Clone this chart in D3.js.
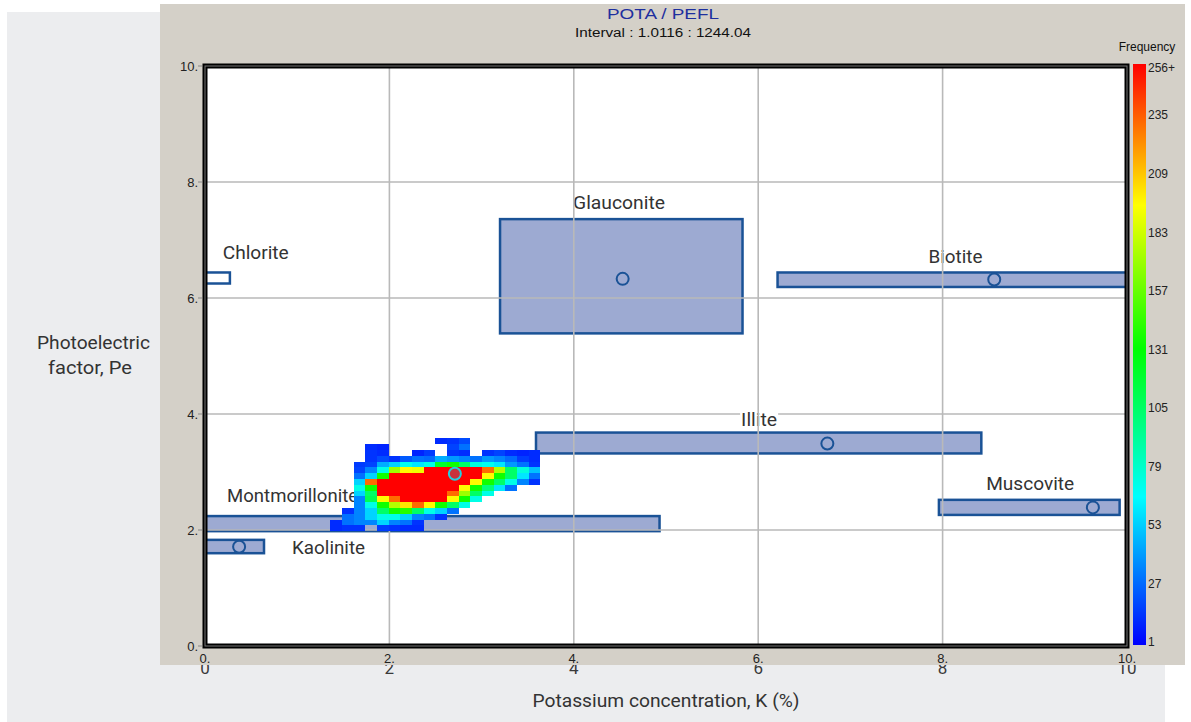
<!DOCTYPE html>
<html><head><meta charset="utf-8">
<script src="https://cdn.jsdelivr.net/npm/d3@7"></script>
<style>body{margin:0;background:#fff;} svg{display:block}</style>
</head><body>
<svg id="c" width="1191" height="722"></svg>
<script>
// Axis ticks
const xTicks = [0, 2, 4, 6, 8, 10];
const yTicks = [0, 2, 4, 6, 8, 10];
const legendTicks = [1, 27, 53, 79, 105, 131, 157, 183, 209, 235, 256];

// Mineral reference boxes (K %, Pe)
const minerals = ["Chlorite", "Glauconite", "Biotite", "Illite", "Muscovite", "Montmorillonite", "Kaolinite"];
const kMin  = [-0.5, 3.20, 6.21, 3.59, 7.96, -0.5, -0.1];
const kMax  = [0.27, 5.83, 10.5, 8.42, 9.92, 4.93, 0.64];
const peMin = [6.25, 5.39, 6.19, 3.32, 2.26, 1.98, 1.60];
const peMax = [6.44, 7.36, 6.44, 3.68, 2.52, 2.24, 1.83];
const kMean  = [null, 4.53, 8.56, 6.75, 9.63, null, 0.37];
const peMean = [null, 6.33, 6.32, 3.49, 2.39, null, 1.71];
const openBox = [true, false, false, false, false, false, false];
const labelK  = [0.55, 4.49, 8.14, 6.01, 8.95, 0.95, 1.34];
const labelPe = [6.78, 7.64, 6.72, 3.90, 2.81, 2.59, 1.69];
const labelWidth = [66, 92, 54, 36, 88, 131, 73];

// Frequency histogram of the log samples
const binK0 = 1.36, binKWidth = 0.1265;
const binPe0 = 1.98, binPeHeight = 0.1;
// rows listed from highest Pe bin down to lowest
const freqRows = [
  [0,0,0,0,0,0,0,0,0,12,14,20,0,0,0,0,0,0],
  [0,0,0,12,10,0,0,0,0,0,18,30,0,0,0,0,0,0],
  [0,0,0,14,12,0,0,10,16,0,14,12,0,14,18,12,10,12],
  [0,0,0,14,20,14,24,30,28,45,40,35,30,40,35,28,16,12],
  [0,0,16,18,45,55,70,60,72,120,135,105,75,70,60,40,30,14],
  [0,0,18,35,72,170,195,190,256,256,256,256,256,230,175,105,75,50],
  [0,0,30,55,135,256,256,256,256,256,256,256,256,195,135,105,60,30],
  [0,0,55,230,256,256,256,256,256,256,256,256,195,135,105,72,35,14],
  [0,0,72,135,256,256,256,256,256,256,256,195,135,100,60,30,0,0],
  [0,0,55,105,256,256,256,256,256,256,230,170,105,72,0,0,0,0],
  [0,0,35,110,195,230,256,256,256,256,195,135,72,0,0,0,0,0],
  [0,0,35,72,135,175,200,230,195,135,105,72,0,0,0,0,0,0],
  [0,14,35,55,105,135,140,105,72,55,30,0,0,0,0,0,0,0],
  [0,30,35,55,72,72,55,35,30,14,0,0,0,0,0,0,0,0],
  [12,30,35,35,55,35,30,14,0,0,0,0,0,0,0,0,0,0],
  [12,14,14,0,16,14,12,12,0,0,0,0,0,0,0,0,0,0]
];
const sampleMeanK = 2.71, sampleMeanPe = 2.97;

const svg = d3.select("#c");
const defs = svg.append("defs");
const x = d3.scaleLinear().domain([0, 10]).range([205, 1127]);
const y = d3.scaleLinear().domain([0, 10]).range([646, 66]);
const color = d3.scaleLinear().domain([1, 66, 131, 194, 256])
  .range(["#0000ff", "#00ffff", "#00ff00", "#ffff00", "#ff0000"]).clamp(true);
const legendY = d3.scaleLinear().domain([1, 256]).range([642, 68]);

const FONT = "'Liberation Sans', Arial, sans-serif";
const LFONT = "Roboto, 'Liberation Sans', sans-serif";

// Backgrounds
svg.append("rect").attr("x", 7).attr("y", 12).attr("width", 1158).attr("height", 710).attr("fill", "#ecedef");
// bottom tick numerals of the outer figure, mostly hidden behind the panel
defs.append("clipPath").attr("id", "underPanel")
  .append("rect").attr("x", 0).attr("y", 665).attr("width", 1191).attr("height", 20);
svg.append("g").attr("clip-path", "url(#underPanel)").selectAll("text").data(xTicks).join("text")
  .attr("x", d => x(d)).attr("y", 674).attr("text-anchor", "middle")
  .attr("font-family", LFONT).attr("font-size", 17).attr("fill", "#3a3a3a").text(d => d);
svg.append("rect").attr("x", 160).attr("y", 4).attr("width", 1025).attr("height", 661).attr("fill", "#d4d0c8");

// Titles
svg.append("text").attr("x", 663).attr("y", 19).attr("text-anchor", "middle")
  .attr("font-family", FONT).attr("font-size", 15).attr("fill", "#1e2f9e")
  .attr("textLength", 112).attr("lengthAdjust", "spacingAndGlyphs").text("POTA / PEFL");
svg.append("text").attr("x", 663).attr("y", 37).attr("text-anchor", "middle")
  .attr("font-family", FONT).attr("font-size", 12).attr("fill", "#111")
  .attr("textLength", 176).attr("lengthAdjust", "spacingAndGlyphs").text("Interval : 1.0116 : 1244.04");
svg.append("text").attr("x", 1147).attr("y", 51).attr("text-anchor", "middle")
  .attr("font-family", FONT).attr("font-size", 12).attr("fill", "#111").text("Frequency");

// Plot area
defs.append("clipPath").attr("id", "plotClip")
  .append("rect").attr("x", x(0)).attr("y", y(10)).attr("width", x(10) - x(0)).attr("height", y(0) - y(10));
svg.append("rect").attr("x", x(0)).attr("y", y(10)).attr("width", x(10) - x(0)).attr("height", y(0) - y(10)).attr("fill", "#fff");

const plot = svg.append("g").attr("clip-path", "url(#plotClip)");
const idx = d3.range(minerals.length);

// Mineral boxes
plot.append("g").selectAll("rect").data(idx).join("rect")
  .attr("x", i => x(kMin[i])).attr("y", i => y(peMax[i]))
  .attr("width", i => x(kMax[i]) - x(kMin[i])).attr("height", i => y(peMin[i]) - y(peMax[i]))
  .attr("fill", i => openBox[i] ? "#fff" : "#9daad2").attr("stroke", "#1a5296").attr("stroke-width", 2.5);
plot.append("g").selectAll("circle").data(idx.filter(i => kMean[i] !== null)).join("circle")
  .attr("cx", i => x(kMean[i])).attr("cy", i => y(peMean[i])).attr("r", 6)
  .attr("fill", "none").attr("stroke", "#1a5296").attr("stroke-width", 2);

// Horizontal grid
plot.append("g").selectAll("line").data(yTicks.slice(1, -1)).join("line")
  .attr("x1", x(0)).attr("x2", x(10)).attr("y1", d => y(d)).attr("y2", d => y(d))
  .attr("stroke", "#b9b9b9").attr("stroke-width", 1.6);

// Mineral labels
const lab = plot.append("g").selectAll("g").data(idx).join("g")
  .attr("transform", i => `translate(${x(labelK[i])},${y(labelPe[i])})`);
lab.append("rect").attr("x", i => -labelWidth[i] / 2 - 1).attr("y", -10).attr("width", i => labelWidth[i] + 2).attr("height", 20).attr("fill", "#fff");
lab.append("text").attr("text-anchor", "middle").attr("dy", "0.36em")
  .attr("font-family", LFONT).attr("font-size", 18).attr("fill", "#333")
  .attr("textLength", i => labelWidth[i]).attr("lengthAdjust", "spacingAndGlyphs")
  .text(i => minerals[i]);

// Vertical grid
plot.append("g").selectAll("line").data(xTicks.slice(1, -1)).join("line")
  .attr("x1", d => x(d)).attr("x2", d => x(d)).attr("y1", y(10)).attr("y2", y(0))
  .attr("stroke", "#b9b9b9").attr("stroke-width", 1.6);

// Frequency cells
const cells = [];
freqRows.forEach((row, ri) => {
  const r = freqRows.length - 1 - ri;
  row.forEach((v, c) => { if (v > 0) cells.push({ r, c, v }); });
});
plot.append("g").attr("shape-rendering", "crispEdges").selectAll("rect").data(cells).join("rect")
  .attr("x", d => x(binK0 + d.c * binKWidth))
  .attr("y", d => y(binPe0 + (d.r + 1) * binPeHeight))
  .attr("width", d => x(binK0 + (d.c + 1) * binKWidth) - x(binK0 + d.c * binKWidth))
  .attr("height", d => y(binPe0 + d.r * binPeHeight) - y(binPe0 + (d.r + 1) * binPeHeight))
  .attr("fill", d => color(d.v));

plot.append("circle").attr("cx", x(sampleMeanK)).attr("cy", y(sampleMeanPe)).attr("r", 6)
  .attr("fill", "#c8323c").attr("stroke", "#22d0e0").attr("stroke-width", 2);

// Frame
svg.append("rect").attr("x", x(0)).attr("y", y(10)).attr("width", x(10) - x(0)).attr("height", y(0) - y(10))
  .attr("fill", "none").attr("stroke", "#000").attr("stroke-width", 5);
svg.append("rect").attr("x", x(0)).attr("y", y(10)).attr("width", x(10) - x(0)).attr("height", y(0) - y(10))
  .attr("fill", "none").attr("stroke", "#777").attr("stroke-width", 1);

// Tick marks and numbers
svg.append("g").selectAll("line").data(yTicks).join("line")
  .attr("x1", x(0) - 7).attr("x2", x(0) - 3).attr("y1", d => y(d)).attr("y2", d => y(d))
  .attr("stroke", "#888").attr("stroke-width", 1);
svg.append("g").selectAll("text").data(yTicks).join("text")
  .attr("x", x(0) - 7).attr("y", d => y(d)).attr("dy", "0.35em").attr("text-anchor", "end")
  .attr("font-family", FONT).attr("font-size", 13).attr("fill", "#222").text(d => d + ".");
svg.append("g").selectAll("text").data(xTicks).join("text")
  .attr("x", d => x(d)).attr("y", 663).attr("text-anchor", "middle")
  .attr("font-family", FONT).attr("font-size", 13).attr("fill", "#222").text(d => d + ".");

// Color legend
const grad = defs.append("linearGradient").attr("id", "freqGrad")
  .attr("x1", 0).attr("y1", 1).attr("x2", 0).attr("y2", 0);
grad.selectAll("stop").data(color.domain()).join("stop")
  .attr("offset", d => (d - 1) / 255).attr("stop-color", d => color(d));
svg.append("rect").attr("x", 1133).attr("y", 64).attr("width", 13).attr("height", 581).attr("fill", "url(#freqGrad)");
svg.append("g").selectAll("text").data(legendTicks).join("text")
  .attr("x", 1148).attr("y", d => legendY(d)).attr("dy", "0.35em")
  .attr("font-family", FONT).attr("font-size", 12).attr("fill", "#222")
  .text(d => d === 256 ? "256+" : d);

// Axis titles
svg.append("text").attr("x", 93.5).attr("y", 342).attr("dy", "0.36em").attr("text-anchor", "middle")
  .attr("font-family", LFONT).attr("font-size", 19).attr("fill", "#333")
  .attr("textLength", 113).attr("lengthAdjust", "spacingAndGlyphs").text("Photoelectric");
svg.append("text").attr("x", 90).attr("y", 367).attr("dy", "0.36em").attr("text-anchor", "middle")
  .attr("font-family", LFONT).attr("font-size", 19).attr("fill", "#333")
  .attr("textLength", 84).attr("lengthAdjust", "spacingAndGlyphs").text("factor, Pe");
svg.append("text").attr("x", 666).attr("y", 700).attr("dy", "0.36em").attr("text-anchor", "middle")
  .attr("font-family", LFONT).attr("font-size", 19).attr("fill", "#333")
  .attr("textLength", 267).attr("lengthAdjust", "spacingAndGlyphs").text("Potassium concentration, K (%)");
</script>
</body></html>
